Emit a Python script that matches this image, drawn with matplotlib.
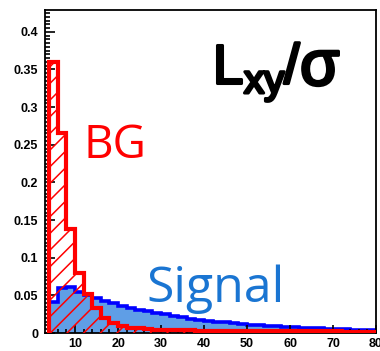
import matplotlib
matplotlib.use('Agg')

import matplotlib.pyplot as plt
import matplotlib.patheffects as pe
import numpy as np
from matplotlib.ticker import MultipleLocator

# bin edges shared by both histograms (width 2)
bin_edges = np.arange(4, 82, 2)

# normalised Lxy/sigma distributions
bg_values = [0.360, 0.265, 0.138, 0.080, 0.052, 0.033, 0.020, 0.013, 0.009, 0.007,
             0.006, 0.005, 0.0045, 0.004, 0.004, 0.0035, 0.0035, 0.003, 0.003, 0.003,
             0.0028, 0.0027, 0.0025, 0.0025, 0.0024, 0.0023, 0.0022, 0.0022, 0.002, 0.002,
             0.002, 0.0025, 0.002, 0.002, 0.0018, 0.0018, 0.0018, 0.0016]
signal_values = [0.041, 0.060, 0.061, 0.055, 0.050, 0.047, 0.043, 0.040, 0.036, 0.033,
                 0.031, 0.029, 0.027, 0.025, 0.023, 0.021, 0.019, 0.017, 0.016, 0.015,
                 0.014, 0.013, 0.012, 0.011, 0.010, 0.0095, 0.009, 0.008, 0.0075, 0.007,
                 0.0065, 0.006, 0.0055, 0.005, 0.005, 0.0045, 0.0045, 0.004]

plt.rcParams['hatch.linewidth'] = 1.1

W, H = 380, 351
fig = plt.figure(figsize=(W / 100, H / 100), dpi=100)
ax = fig.add_axes([45 / W, 18 / H, 331 / W, 323 / H])

# signal: filled light blue with a dark blue outline
ax.stairs(signal_values, bin_edges, fill=True, color='#5f9ee6', linewidth=0, zorder=1)
ax.stairs(signal_values, bin_edges, fill=False, color='#0000ff', linewidth=2.6, zorder=2)

# background: red hatch, no fill
ax.stairs(bg_values, bin_edges, fill=True, facecolor='none', edgecolor='#ff0000',
          hatch='//', linewidth=0, zorder=3)
ax.stairs(bg_values, bin_edges, fill=False, color='#ff0000', linewidth=3.0, zorder=4)

ax.set_xlim(3, 80)
ax.set_ylim(0, 0.429)
ax.set_axisbelow(False)

ax.xaxis.set_major_locator(MultipleLocator(10))
ax.xaxis.set_minor_locator(MultipleLocator(2))
ax.yaxis.set_major_locator(MultipleLocator(0.05))
ax.yaxis.set_minor_locator(MultipleLocator(0.005))
ax.yaxis.set_major_formatter(lambda v, p: '0' if v == 0 else f'{v:g}')

ax.tick_params(which='both', direction='in', top=False, right=False, width=1.2, color='black')
ax.tick_params(axis='x', which='major', length=6, pad=3.5)
ax.tick_params(axis='x', which='minor', length=3)
ax.tick_params(axis='y', which='major', length=7, pad=5)
ax.tick_params(axis='y', which='minor', length=3.5)
for lab in ax.get_xticklabels() + ax.get_yticklabels():
    lab.set_fontfamily('Liberation Sans')
    lab.set_fontweight('bold')
    lab.set_fontsize(9)
for sp in ax.spines.values():
    sp.set_linewidth(1.3)


def px(x, y):
    return x / W, 1 - y / H


# variable label, thickened with a stroke
heavy = [pe.withStroke(linewidth=2.2, foreground='black')]
label_style = dict(family='Liberation Sans', va='baseline', ha='left', path_effects=heavy)
fig.text(*px(212, 83), 'L', fontsize=40, **label_style)
fig.text(*px(244, 93), 'xy', fontsize=29, **label_style)
fig.text(*px(284, 83), '/', fontsize=40, **label_style)
fig.text(*px(300, 85), 'σ', fontsize=46, **label_style)

fig.text(*px(83, 158), 'BG', fontsize=33, color='#ff0000', family='Open Sans',
         va='baseline', ha='left')
fig.text(*px(146, 302), 'Signal', fontsize=36, color='#1a75d2', family='Open Sans',
         va='baseline', ha='left')

fig.savefig('out.png', dpi=100)
